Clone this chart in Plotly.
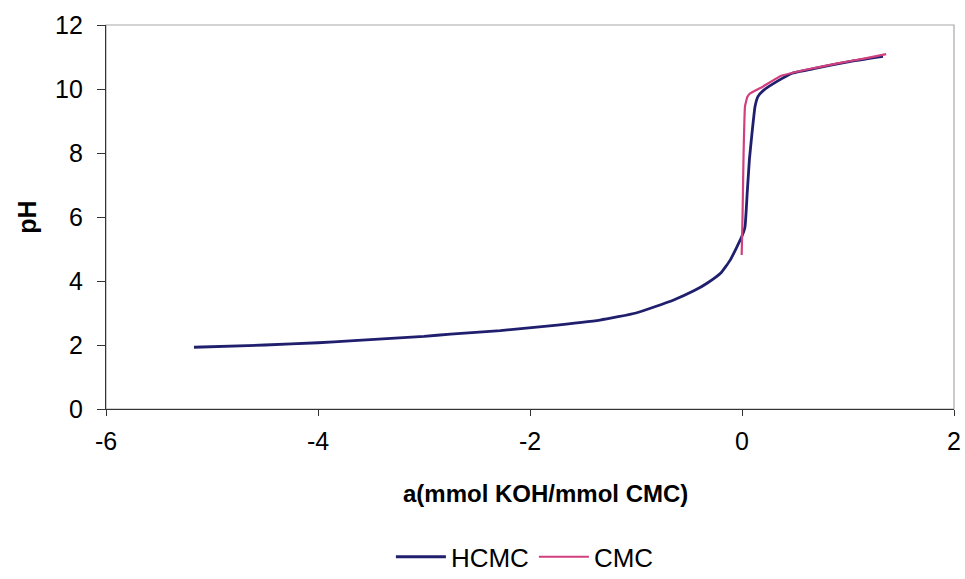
import plotly.graph_objects as go

# Titration curves: pH versus degree of neutralisation a
hcmc_a = [-5.17, -4.5, -4.0, -3.7, -3.0, -2.75, -2.28, -1.84, -1.34, -1.0, -0.65,
          -0.45, -0.33, -0.2, -0.11, -0.003, 0.028, 0.05, 0.07, 0.091, 0.123, 0.15,
          0.2, 0.327, 0.48, 0.7, 1.0, 1.33]
hcmc_ph = [1.93, 2.0, 2.07, 2.13, 2.27, 2.34, 2.45, 2.59, 2.78, 3.0, 3.4,
           3.7, 3.93, 4.25, 4.66, 5.38, 5.69, 6.8, 7.8, 8.51, 9.45, 9.76,
           9.95, 10.23, 10.5, 10.65, 10.85, 11.02]

cmc_a = [-0.003, 0.005, 0.015, 0.028, 0.05, 0.075, 0.2, 0.36, 0.6, 0.9, 1.15, 1.36]
cmc_ph = [4.81, 6.0, 8.0, 9.45, 9.75, 9.86, 10.08, 10.4, 10.6, 10.8, 10.95, 11.09]

x_ticks = [-6, -4, -2, 0, 2]
x_labels = ["-6", "-4", "-2", "0", "2"]
y_ticks = [0, 2, 4, 6, 8, 10, 12]

fig = go.Figure()
fig.add_trace(go.Scatter(x=hcmc_a, y=hcmc_ph, mode="lines", name="HCMC",
                         line=dict(color="#1f1f6e", width=2.8, shape="spline", smoothing=0.4)))
fig.add_trace(go.Scatter(x=cmc_a, y=cmc_ph, mode="lines", name="CMC",
                         line=dict(color="#d0407e", width=2.2, shape="spline", smoothing=0.3)))

font = "Liberation Sans, Arial, sans-serif"
fig.update_layout(
    width=965, height=579,
    margin=dict(l=106, r=11, t=25, b=170, autoexpand=False),
    paper_bgcolor="white", plot_bgcolor="white",
    font=dict(family=font, size=25, color="black"),
    showlegend=True,
    legend=dict(orientation="h", x=0.494, y=-0.385, xanchor="center", yanchor="middle",
                font=dict(size=26), itemwidth=50, tracegroupgap=0),
    shapes=[dict(type="rect", xref="paper", yref="paper", x0=0, x1=1, y0=0, y1=1,
                 line=dict(color="#a8a8a8", width=1.2), layer="below")],
    annotations=[dict(text="<b>a(mmol KOH/mmol CMC)</b>", xref="paper", yref="paper",
                      x=0.518, y=-0.219, xanchor="center", yanchor="middle",
                      showarrow=False, font=dict(size=24))],
)
fig.update_xaxes(range=[-6, 2], tickvals=x_ticks, ticktext=x_labels,
                 showgrid=False, zeroline=False, automargin=False,
                 showline=True, linecolor="#333", linewidth=1.2,
                 ticks="outside", ticklen=6, tickcolor="#333",
                 tickfont=dict(size=25), ticklabelstandoff=4)
fig.update_yaxes(range=[0, 12], tickvals=y_ticks, showgrid=False, zeroline=False,
                 automargin=False,
                 showline=True, linecolor="#333", linewidth=1.2,
                 ticks="outside", ticklen=8, tickcolor="#333",
                 tickfont=dict(size=25), ticklabelstandoff=9,
                 title=dict(text="<b>pH</b>", font=dict(size=25), standoff=11))

fig.write_html("out.html")
